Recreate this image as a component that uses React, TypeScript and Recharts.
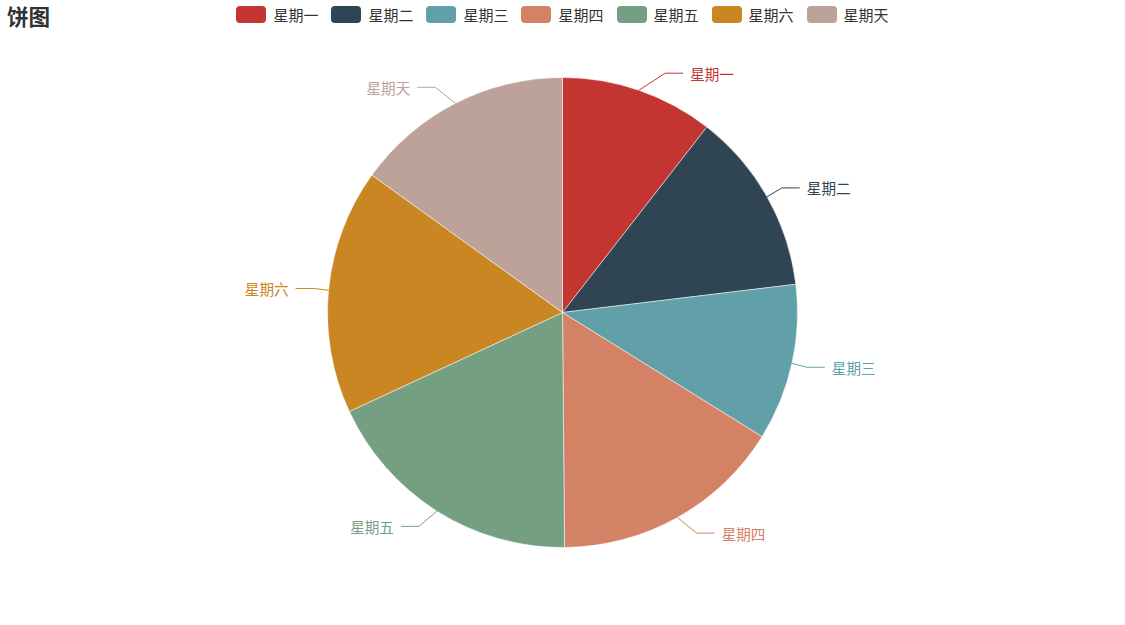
import React from 'react';
import { PieChart, Pie, Cell, Legend } from 'recharts';

const days = ['星期一', '星期二', '星期三', '星期四', '星期五', '星期六', '星期天'];
const values = [379, 452, 388, 576, 656, 607, 542];
const colors = ['#c23531', '#2f4554', '#61a0a8', '#d48265', '#749f83', '#ca8622', '#bda29a'];

const data = days.map((name, i) => ({ name, value: values[i] }));

const FONT = '"Noto Sans CJK SC", "Noto Sans", sans-serif';
const RADIAN = Math.PI / 180;

// echarts-like label: radial first segment, then horizontal second segment
const renderLabel = (props: any) => {
  const { cx, cy, midAngle, outerRadius, index } = props;
  const len = 18;
  const ux = Math.cos(-midAngle * RADIAN);
  const uy = Math.sin(-midAngle * RADIAN);
  const sx = cx + outerRadius * ux;
  const sy = cy + outerRadius * uy;
  const ly = cy + (outerRadius + len) * uy;
  const dir = ux >= 0 ? 1 : -1;
  const dy = Math.abs(ly - cy);
  const R = outerRadius + 33;
  const deltaX = Math.sqrt(Math.max(R * R - dy * dy, 0));
  const endX = cx + dir * deltaX;
  const elbowX = endX - dir * 18;
  const textX = endX + dir * 7;
  const color = colors[index];
  return (
    <g>
      <path d={`M${sx},${sy}L${elbowX},${ly}L${endX},${ly}`} stroke={color} fill="none" />
      <text
        x={textX}
        y={ly}
        textAnchor={dir > 0 ? 'start' : 'end'}
        dominantBaseline="central"
        fill={color}
        fontSize={14.6}
        fontFamily={FONT}
      >
        {days[index]}
      </text>
    </g>
  );
};

const renderLegend = () => (
  <div style={{ display: 'flex', justifyContent: 'center', fontFamily: FONT, fontSize: 15, color: '#333' }}>
    {days.map((d, i) => (
      <div key={d} style={{ display: 'flex', alignItems: 'center', marginRight: i < days.length - 1 ? 13 : 0 }}>
        <span style={{ display: 'inline-block', width: 30, height: 17, borderRadius: 4, background: colors[i], marginRight: 7 }} />
        <span style={{ lineHeight: '17px' }}>{d}</span>
      </div>
    ))}
  </div>
);

export default function App() {
  return (
    <div style={{ position: 'absolute', left: 0, top: 0, width: 1125, height: 625, background: '#fff' }}>
      <div
        style={{
          position: 'absolute',
          left: 7,
          top: 2,
          fontFamily: FONT,
          fontSize: 21.6,
          fontWeight: 'bold',
          color: '#333',
          lineHeight: '28px',
          zIndex: 2,
        }}
      >
        饼图
      </div>
      <PieChart width={1125} height={625} margin={{ top: 0, right: 0, bottom: 0, left: 0 }}>
        <Legend
          verticalAlign="top"
          content={renderLegend}
          wrapperStyle={{ position: 'absolute', top: 6, left: 0, width: 1125, height: 17 }}
        />
        <Pie
          data={data}
          dataKey="value"
          nameKey="name"
          cx={562.5}
          cy={295.5}
          outerRadius={235}
          startAngle={90}
          endAngle={-270}
          stroke="#fff"
          strokeWidth={0.5}
          label={renderLabel}
          labelLine={false}
          isAnimationActive={false}
        >
          {data.map((d, i) => (
            <Cell key={d.name} fill={colors[i]} />
          ))}
        </Pie>
      </PieChart>
    </div>
  );
}
